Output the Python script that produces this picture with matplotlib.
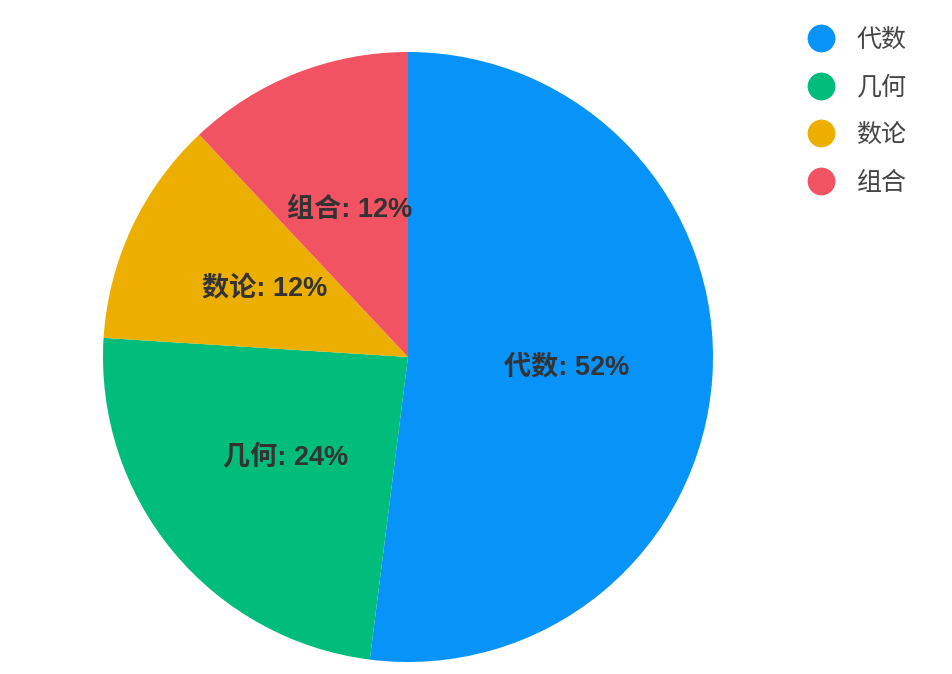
import matplotlib
matplotlib.use("Agg")
import matplotlib.pyplot as plt
from matplotlib.lines import Line2D

plt.rcParams['font.family'] = ['Liberation Sans', 'Noto Sans CJK SC', 'DejaVu Sans']

subjects = ['代数', '几何', '数论', '组合']
shares = [52, 24, 12, 12]
colors = ['#0893f9', '#00bd7c', '#ecaf00', '#f15363']

W, H = 952, 674
fig = plt.figure(figsize=(W / 100, H / 100), dpi=100)

# pie area: centre (408, 357), radius ~305 px
cx, cy, r = 408, 357, 305
ax = fig.add_axes([(cx - r) / W, (H - cy - r) / H, 2 * r / W, 2 * r / H])
wedges, texts = ax.pie(shares, colors=colors, startangle=90, counterclock=False,
                       radius=1, labels=[f'{s}: {v}%' for s, v in zip(subjects, shares)],
                       labeldistance=0.52, wedgeprops=dict(linewidth=0),
                       textprops=dict(fontsize=19.5, fontweight='bold', color='#333333'))
for t in texts:
    t.set_ha('center')
    t.set_va('center')
ax.set_xlim(-1, 1)
ax.set_ylim(-1, 1)
ax.axis('off')

handles = [Line2D([], [], marker='o', linestyle='none', markersize=20,
                  markerfacecolor=c, markeredgewidth=0) for c in colors]
leg = fig.legend(handles, subjects, loc='upper left',
                 bbox_to_anchor=(798 / W, 1 - 18 / H), frameon=False,
                 fontsize=18, labelcolor='#444444', handlelength=1.0,
                 handletextpad=0.94, labelspacing=0.94, borderaxespad=0)

fig.savefig('out.png', dpi=100)
